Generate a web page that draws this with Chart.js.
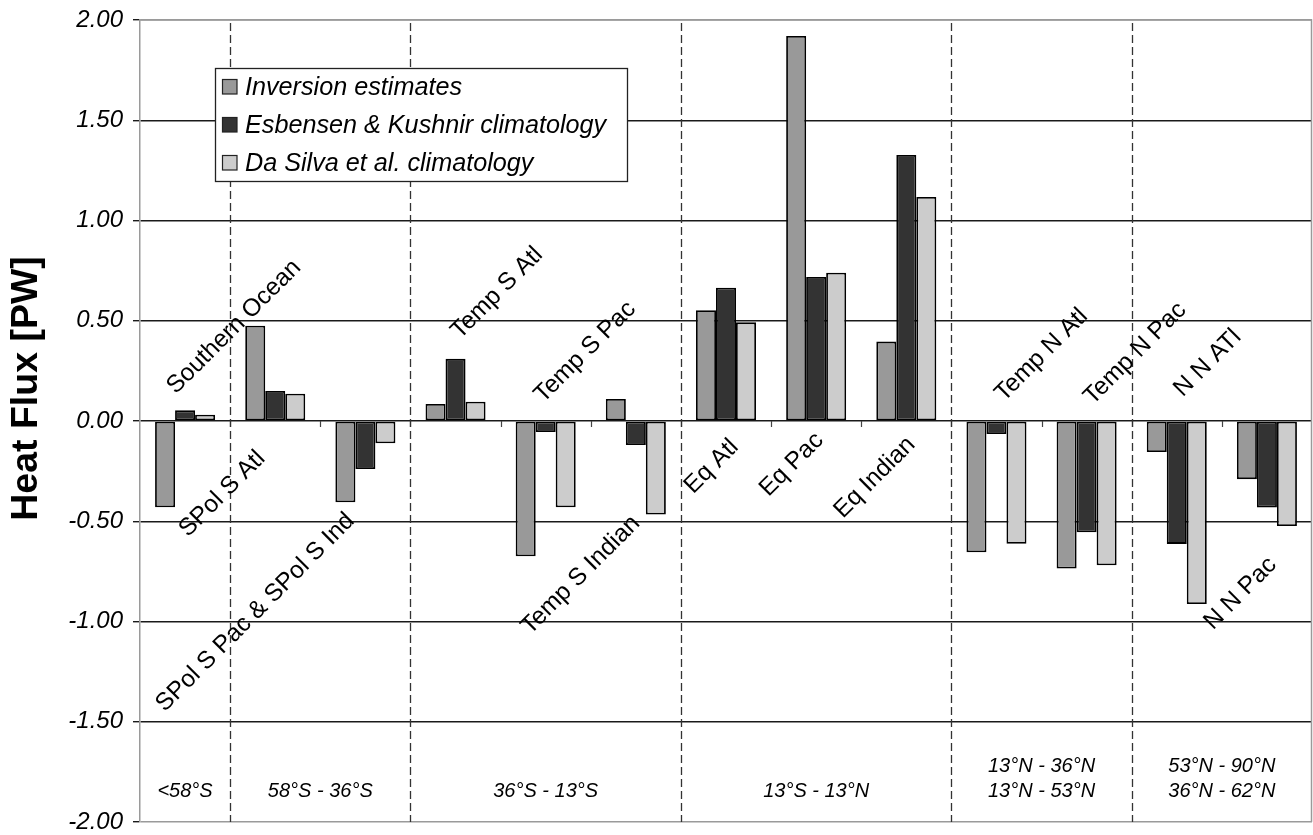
<!DOCTYPE html>
<html>
<head>
<meta charset="utf-8">
<title>Heat Flux</title>
<script src="https://cdn.jsdelivr.net/npm/chart.js@4.4.1/dist/chart.umd.min.js"></script>
<style>
  html, body { margin: 0; padding: 0; background: #ffffff; }
  #c { display: block; }
</style>
</head>
<body>
<canvas id="c" width="1313" height="835"></canvas>
<script>
// Basin categories, in plotting order (south to north)
const categories = [
  'Southern Ocean', 'SPol S Atl', 'SPol S Pac & SPol S Ind',
  'Temp S Atl', 'Temp S Pac', 'Temp S Indian',
  'Eq Atl', 'Eq Pac', 'Eq Indian',
  'Temp N Atl', 'Temp N Pac', 'N N ATl', 'N N Pac'
];

// Heat flux per basin [PW]
const inversionEstimates = [-0.43, 0.475, -0.405, 0.085, -0.675, 0.11, 0.552, 1.92, 0.396, -0.655, -0.736, -0.155, -0.29];
const esbensenKushnir    = [0.053, 0.15, -0.24, 0.31, -0.055, -0.12, 0.665, 0.718, 1.327, -0.065, -0.555, -0.613, -0.432];
const daSilva            = [0.031, 0.136, -0.111, 0.096, -0.43, -0.466, 0.492, 0.74, 1.117, -0.612, -0.72, -0.913, -0.524];

const seriesNames = ['Inversion estimates', 'Esbensen & Kushnir climatology', 'Da Silva et al. climatology'];

// Y axis ticks
const yTicks = [2, 1.5, 1, 0.5, 0, -0.5, -1, -1.5, -2];

// Latitude bands: first and last category of each band, and the band text
const bandStart = [0, 1, 3, 6, 9, 11];
const bandEnd   = [0, 2, 5, 8, 10, 12];
const bandText  = [
  ['<58°S'],
  ['58°S - 36°S'],
  ['36°S - 13°S'],
  ['13°S - 13°N'],
  ['13°N - 36°N', '13°N - 53°N'],
  ['53°N - 90°N', '36°N - 62°N']
];

// Where each slanted basin name sits: horizontal shift from the category centre (px) and height in PW
const nameShift  = [49, -53, -110, 41.5, 39.5, -55, -14.5, -24.5, -31.5, 45, 48.5, 31, -26.5];
const nameHeight = [0.469, -0.364, -0.955, 0.638, 0.344, -0.768, -0.227, -0.217, -0.282, 0.329, 0.337, 0.289, -0.86];

const FONT = '"Liberation Sans", Arial, Helvetica, sans-serif';
const fills = ['#999999', '#333333', '#cccccc'];

const overlay = {
  id: 'overlay',
  beforeDatasetsDraw(chart) {
    const { ctx, chartArea: a, scales: { x, y } } = chart;
    const half = (x.getPixelForValue(1) - x.getPixelForValue(0)) / 2;
    const y0 = y.getPixelForValue(0);
    ctx.save();
    // small ticks under the zero line at category boundaries
    ctx.strokeStyle = '#444';
    ctx.lineWidth = 1.2;
    for (let i = 1; i < categories.length; i++) {
      const bx = Math.round(x.getPixelForValue(i) - half) + 0.5;
      ctx.beginPath();
      ctx.moveTo(bx, y0);
      ctx.lineTo(bx, y0 + 6);
      ctx.stroke();
    }
    // dashed separators between latitude bands
    ctx.setLineDash([8, 4]);
    ctx.strokeStyle = '#333';
    ctx.lineWidth = 1.3;
    for (let b = 0; b < bandEnd.length - 1; b++) {
      const bx = Math.round(x.getPixelForValue(bandEnd[b]) + half) + 0.5;
      ctx.beginPath();
      ctx.moveTo(bx, a.top + 3);
      ctx.lineTo(bx, a.bottom);
      ctx.stroke();
    }
    ctx.setLineDash([]);
    // plot frame (top and right)
    ctx.strokeStyle = '#9a9a9a';
    ctx.lineWidth = 1.5;
    ctx.beginPath();
    ctx.moveTo(a.left, a.top);
    ctx.lineTo(a.right - 0.5, a.top);
    ctx.lineTo(a.right - 0.5, a.bottom);
    ctx.stroke();
    ctx.restore();
  },
  afterDraw(chart) {
    const { ctx, chartArea: a, scales: { x, y } } = chart;
    ctx.save();
    ctx.fillStyle = '#000';

    // slanted basin names
    ctx.font = '24.5px ' + FONT;
    ctx.textAlign = 'center';
    ctx.textBaseline = 'middle';
    categories.forEach((name, i) => {
      const cx = x.getPixelForValue(i) + nameShift[i];
      const cy = y.getPixelForValue(nameHeight[i]);
      ctx.save();
      ctx.translate(cx, cy);
      ctx.rotate(-Math.PI / 4);
      ctx.fillText(name, 0, 0);
      ctx.restore();
    });

    // latitude band captions
    ctx.font = 'italic 20px ' + FONT;
    ctx.textBaseline = 'alphabetic';
    bandText.forEach((lines, b) => {
      const cx = (x.getPixelForValue(bandStart[b]) + x.getPixelForValue(bandEnd[b])) / 2;
      const last = y.getPixelForValue(-1.875);
      lines.forEach((t, k) => {
        ctx.fillText(t, cx, last - (lines.length - 1 - k) * 25);
      });
    });

    // legend box
    const lx = 215, ly = 68, lw = 412, lh = 113;
    ctx.fillStyle = '#fff';
    ctx.fillRect(lx, ly, lw, lh);
    ctx.strokeStyle = '#222';
    ctx.lineWidth = 1.3;
    ctx.strokeRect(lx + 0.5, ly + 0.5, lw, lh);
    ctx.font = 'italic 25.2px ' + FONT;
    ctx.textAlign = 'left';
    ctx.textBaseline = 'middle';
    seriesNames.forEach((n, k) => {
      const ry = 86.5 + k * 38;
      ctx.fillStyle = fills[k];
      ctx.fillRect(222, ry - 7.5, 15, 15);
      ctx.strokeStyle = '#222';
      ctx.lineWidth = 1.2;
      ctx.strokeRect(222.5, ry - 7, 14.5, 14.5);
      ctx.fillStyle = '#000';
      ctx.fillText(n, 245, ry + 1);
    });

    // axis title
    ctx.save();
    ctx.font = 'bold 37.5px ' + FONT;
    ctx.textAlign = 'center';
    ctx.textBaseline = 'alphabetic';
    ctx.translate(37, 388.5);
    ctx.rotate(-Math.PI / 2);
    ctx.fillText('Heat Flux [PW]', 0, 0);
    ctx.restore();

    ctx.restore();
  }
};

const series = [inversionEstimates, esbensenKushnir, daSilva];

new Chart(document.getElementById('c'), {
  type: 'bar',
  data: {
    labels: categories,
    datasets: series.map((vals, k) => ({
      label: seriesNames[k],
      data: vals,
      backgroundColor: fills[k],
      borderColor: '#000',
      borderWidth: 1.8,
      borderSkipped: false,
      categoryPercentage: 0.6656,
      barPercentage: 1
    }))
  },
  options: {
    responsive: false,
    animation: false,
    layout: { padding: { top: 20, right: 1, bottom: 13, left: 0 } },
    plugins: {
      legend: { display: false },
      tooltip: { enabled: false },
      title: { display: false }
    },
    scales: {
      x: { display: false },
      y: {
        min: -2,
        max: 2,
        afterFit(scale) {
          scale.width = 140;
          scale.paddingTop = 0;
          scale.paddingBottom = 0;
        },
        afterBuildTicks(scale) { scale.ticks = yTicks.map(v => ({ value: v })); },
        ticks: {
          padding: 10,
          color: '#000',
          font: { family: FONT, size: 24, style: 'italic' },
          callback: v => v.toFixed(2)
        },
        grid: {
          color: c => (c.tick && Math.abs(c.tick.value) === 2) ? '#9a9a9a' : '#1a1a1a',
          lineWidth: 1.4,
          tickColor: '#1a1a1a',
          tickLength: 7
        },
        border: { color: '#9a9a9a', width: 1.5 }
      }
    }
  },
  plugins: [overlay]
});
</script>
</body>
</html>
